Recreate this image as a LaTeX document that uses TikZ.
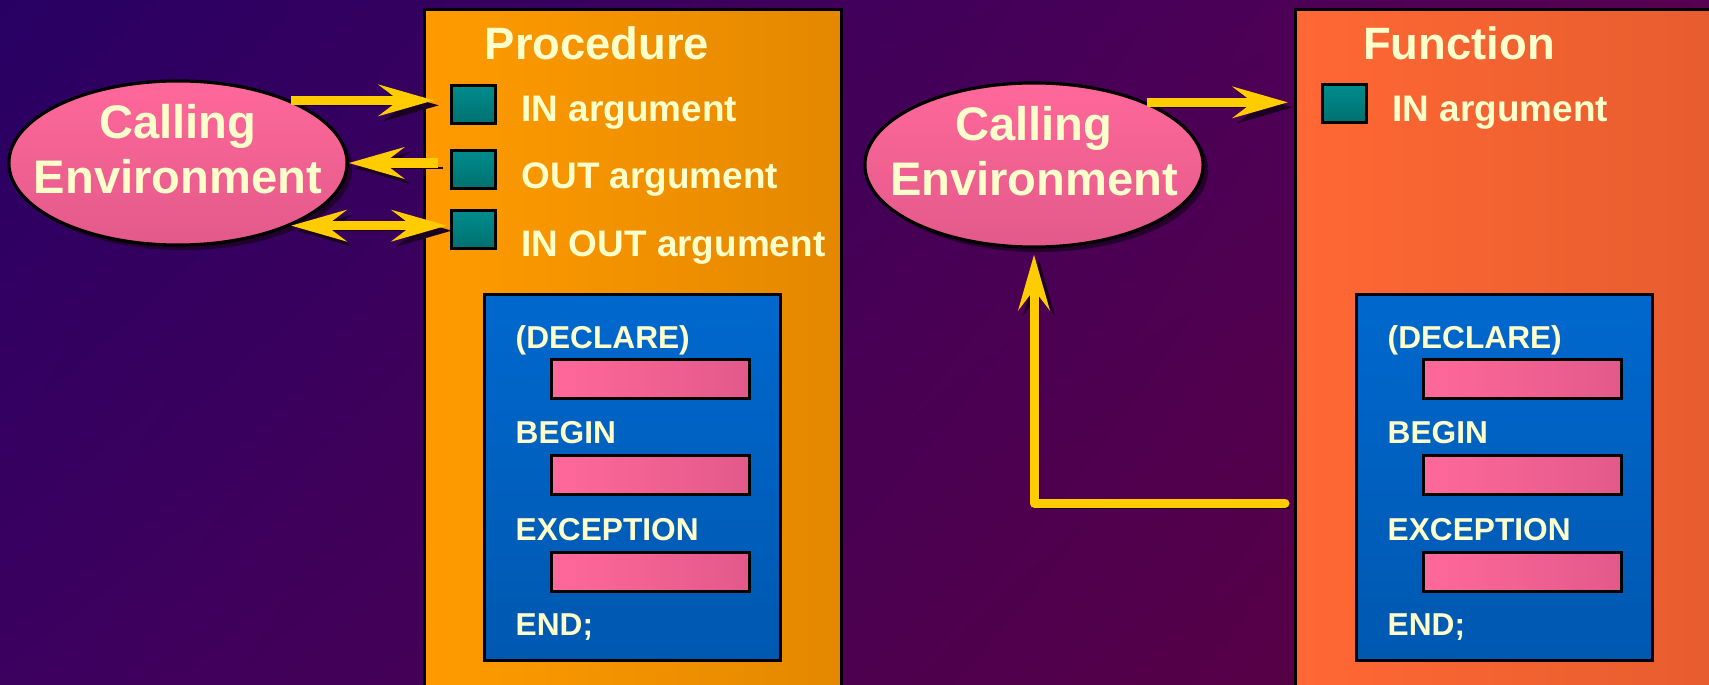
\documentclass[tikz,border=0pt]{standalone}
\usepackage{fontspec}
\setmainfont{Liberation Sans}
\usetikzlibrary{arrows.meta,positioning,shapes.geometric,shadows,shadings}
\definecolor{bgUL}{RGB}{40,0,100}
\definecolor{bgUR}{RGB}{88,0,82}
\definecolor{bgLL}{RGB}{60,0,95}
\definecolor{bgLR}{RGB}{95,0,62}
\definecolor{procA}{RGB}{255,155,0}
\definecolor{procB}{RGB}{228,136,0}
\definecolor{funcA}{RGB}{255,104,52}
\definecolor{funcB}{RGB}{230,92,46}
\definecolor{blueA}{RGB}{0,104,206}
\definecolor{blueB}{RGB}{0,88,176}
\definecolor{pinkA}{RGB}{255,104,154}
\definecolor{pinkB}{RGB}{226,90,138}
\definecolor{tealA}{RGB}{0,140,140}
\definecolor{tealB}{RGB}{0,112,112}
\definecolor{cream}{RGB}{255,255,204}
\definecolor{arrowc}{RGB}{255,204,0}
\definecolor{shadowc}{RGB}{28,0,36}
\tikzset{
	title/.style={anchor=base,inner sep=0pt,text=cream,font=\fontsize{12.9}{15}\selectfont\bfseries},
	calling/.style={ellipse,draw,line width=0.9pt,top color=pinkA,bottom color=pinkB,minimum width=3.38cm,minimum height=1.64cm,inner xsep=-0.25cm,inner ysep=-0.15cm,align=center,text depth=0.28cm,text=cream,font=\fontsize{13.4}{15.6}\selectfont\bfseries,drop shadow={shadow xshift=0.05cm,shadow yshift=-0.05cm,fill=shadowc,opacity=0.8}},
	prog/.style={draw,line width=0.9pt,anchor=north west,inner sep=0pt,minimum height=6.82cm},
	argbox/.style={draw,line width=0.9pt,top color=tealA,bottom color=tealB,anchor=north west,minimum width=0.44cm,minimum height=0.38cm,inner sep=0pt},
	argtext/.style={anchor=base west,inner sep=0pt,text=cream,font=\fontsize{10.5}{12}\selectfont\bfseries},
	block/.style={draw,line width=0.9pt,top color=blueA,bottom color=blueB,anchor=north west,minimum width=2.96cm,minimum height=3.66cm,inner sep=0pt},
	bar/.style={draw,line width=0.9pt,left color=pinkA,right color=pinkB,anchor=north west,minimum width=1.98cm,minimum height=0.39cm,inner sep=0pt},
	kw/.style={anchor=base west,inner sep=0pt,text=cream,font=\fontsize{9.0}{10}\selectfont\bfseries},
	arr/.style={draw=arrowc,line width=0.09cm,-{Stealth[length=0.55cm,width=0.31cm,inset=0.2cm]},preaction={draw=shadowc,transform canvas={shift={(0.05cm,-0.05cm)}}}},
	arrr/.style={draw=arrowc,line width=0.09cm,{Stealth[length=0.55cm,width=0.31cm,inset=0.2cm]}-{Stealth[length=0.55cm,width=0.31cm,inset=0.2cm]},preaction={draw=shadowc,transform canvas={shift={(0.05cm,-0.05cm)}}}}
}

\begin{document}
\begin{tikzpicture}[x=0.01cm,y=-0.01cm]
	\useasboundingbox (0,0) rectangle (1709,685);
	\shade[upper left=bgUL,upper right=bgUR,lower left=bgLL,lower right=bgLR] (0,0) rectangle (1709,685);

	\node[prog,left color=procA,right color=procB,minimum width=4.17cm] (proc) at (423,8) {};
	\node[prog,left color=funcA,right color=funcB,minimum width=4.30cm] (func) at (1294,8) {};
	\node[title] (procT) at (597,60) {Procedure};
	\node[title] (funcT) at (1459,60) {Function};

	\node[argbox] (inP) at (450,84) {};
	\node[argbox] (outP) at (450,149) {};
	\node[argbox] (inoutP) at (450,209) {};
	\node[argbox] (inF) at (1321,83) {};
	\node[argtext] (inPt) at (521,122) {IN argument};
	\node[argtext] (outPt) at (521,189) {OUT argument};
	\node[argtext] (inoutPt) at (521,256) {IN OUT argument};
	\node[argtext] (inFt) at (1392,122) {IN argument};

	\node[block] (blkP) at (483,293) {};
	\node[kw] (declP) at (515,348) {(DECLARE)};
	\node[bar] (barP1) at (550,358) {};
	\node[kw] (beginP) at (515,443) {BEGIN};
	\node[bar] (barP2) at (550,454) {};
	\node[kw] (excP) at (515,540) {EXCEPTION};
	\node[bar] (barP3) at (550,551) {};
	\node[kw] (endP) at (515,635) {END;};

	\node[block] (blkF) at (1355,293) {};
	\node[kw] (declF) at (1387,348) {(DECLARE)};
	\node[bar] (barF1) at (1422,358) {};
	\node[kw] (beginF) at (1387,443) {BEGIN};
	\node[bar] (barF2) at (1422,454) {};
	\node[kw] (excF) at (1387,540) {EXCEPTION};
	\node[bar] (barF3) at (1422,551) {};
	\node[kw] (endF) at (1387,635) {END;};

	\node[calling] (calP) at (178,163) {Calling\\Environment};
	\node[calling] (calF) at (1034,165) {Calling\\Environment};
	\coordinate (ret) at (1285,503);

	\draw[arr,shorten >=0.16cm] (calP.29) -- (calP.29 -| inP.west);
	\draw[arr,shorten <=0.12cm] (calP.east -| outP.west) -- (calP.east);
	\draw[arrr,shorten >=0.03cm] (calP.-29) -- (calP.-29 -| inoutP.west);
	\draw[arr,shorten >=0.06cm] (calF.29) -- (calF.29 -| func.west);
	\draw[arr,line cap=round,line join=round,shorten >=0.06cm] (ret) -| (calF.south);
\end{tikzpicture}
\end{document}
